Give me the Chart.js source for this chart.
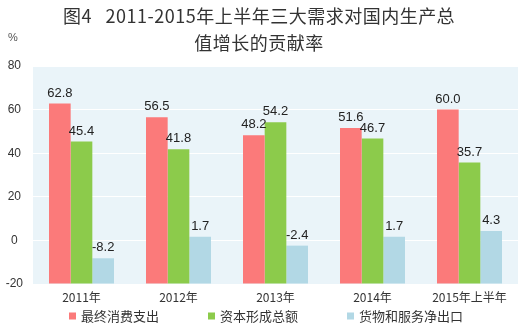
<!DOCTYPE html>
<html>
<head>
<meta charset="utf-8">
<script src="https://cdn.jsdelivr.net/npm/chart.js@4/dist/chart.umd.min.js"></script>
<style>
  html, body { margin: 0; padding: 0; background: #fff; }
  #wrap { width: 521px; height: 332px; position: relative; }
</style>
</head>
<body>
<div id="wrap"><canvas id="demandChart" width="521" height="332"></canvas></div>
<script>
const categories = ["2011年", "2012年", "2013年", "2014年", "2015年上半年"];
const consumption = [62.8, 56.5, 48.2, 51.6, 60.0];   // 最终消费支出
const capital = [45.4, 41.8, 54.2, 46.7, 35.7];       // 资本形成总额
const netExports = [-8.2, 1.7, -2.4, 1.7, 4.3];       // 货物和服务净出口
const seriesNames = ["最终消费支出", "资本形成总额", "货物和服务净出口"];
const yMin = -20, yMax = 80, yStep = 20;

const titleLines = ["图4   2011-2015年上半年三大需求对国内生产总", "值增长的贡献率"];
const unitLabel = "%";

const colors = ["#fb7a7a", "#8ccb4b", "#b2d8e5"];
const plotBg = "#eaf4f9";
const cjk = "'Noto Sans CJK SC', 'Noto Sans', sans-serif";
const latin = "'Liberation Sans', Arial, sans-serif";

// light blue panel behind the grid
const panelBg = {
    id: "panelBg",
    beforeDraw(chart) {
        const { ctx, chartArea: a } = chart;
        ctx.save();
        ctx.fillStyle = plotBg;
        ctx.fillRect(a.left, a.top, a.right - a.left, a.bottom - a.top);
        ctx.restore();
    }
};

// title, unit, value labels and the legend row
const decorations = {
    id: "decorations",
    afterDraw(chart) {
        const ctx = chart.ctx;
        ctx.save();

        ctx.fillStyle = "#333";
        ctx.textAlign = "center";
        ctx.textBaseline = "middle";
        ctx.font = "18px " + cjk;
        ctx.letterSpacing = "0.5px";
        ctx.fillText(titleLines[0], 259, 16);
        ctx.fillText(titleLines[1], 259, 43);
        ctx.letterSpacing = "0px";

        ctx.font = "11px " + latin;
        ctx.fillStyle = "#555";
        ctx.fillText(unitLabel, 13, 38);

        // value above each bar
        ctx.font = "13px " + latin;
        ctx.fillStyle = "#222";
        ctx.textBaseline = "bottom";
        chart.data.datasets.forEach((ds, i) => {
            chart.getDatasetMeta(i).data.forEach((bar, j) => {
                ctx.fillText(ds.data[j].toFixed(1), bar.x, bar.y - 4);
            });
        });

        // legend
        ctx.font = "13px " + cjk;
        ctx.textBaseline = "middle";
        ctx.textAlign = "left";
        const box = 7, gap = 5, spacing = 49, y = 316;
        const widths = seriesNames.map(n => box + gap + ctx.measureText(n).width);
        const total = widths.reduce((s, w) => s + w, 0) + spacing * (widths.length - 1);
        let x = 266 - total / 2;
        seriesNames.forEach((name, i) => {
            ctx.fillStyle = colors[i];
            ctx.fillRect(x, y - 3.5, box, box);
            ctx.fillStyle = "#333";
            ctx.fillText(name, x + box + gap, y);
            x += widths[i] + spacing;
        });
        ctx.restore();
    }
};

const makeSet = (label, data, color) => ({
    label: label,
    data: data,
    backgroundColor: color,
    borderWidth: 0,
    base: yMin,
    categoryPercentage: 0.67,
    barPercentage: 1.0
});

new Chart(document.getElementById("demandChart"), {
    type: "bar",
    data: {
        labels: categories,
        datasets: [
            makeSet(seriesNames[0], consumption, colors[0]),
            makeSet(seriesNames[1], capital, colors[1]),
            makeSet(seriesNames[2], netExports, colors[2])
        ]
    },
    options: {
        responsive: false,
        animation: false,
        events: [],
        layout: { padding: { top: 66, right: 3, left: 0, bottom: 0 } },
        plugins: {
            legend: { display: false },
            title: { display: false },
            tooltip: { enabled: false }
        },
        scales: {
            x: {
                grid: { display: false, drawTicks: false },
                border: { display: false },
                ticks: { color: "#333", padding: 6, font: { family: cjk, size: 12 } },
                afterFit(scale) { scale.height = 48; }
            },
            y: {
                min: yMin,
                max: yMax,
                grid: { color: "#ffffff", lineWidth: 1, drawTicks: false },
                border: { display: false },
                ticks: {
                    stepSize: yStep,
                    color: "#333",
                    padding: 10,
                    crossAlign: "center",
                    font: { family: latin, size: 12 }
                },
                afterFit(scale) { scale.width = 33; }
            }
        }
    },
    plugins: [panelBg, decorations]
});
</script>
</body>
</html>
